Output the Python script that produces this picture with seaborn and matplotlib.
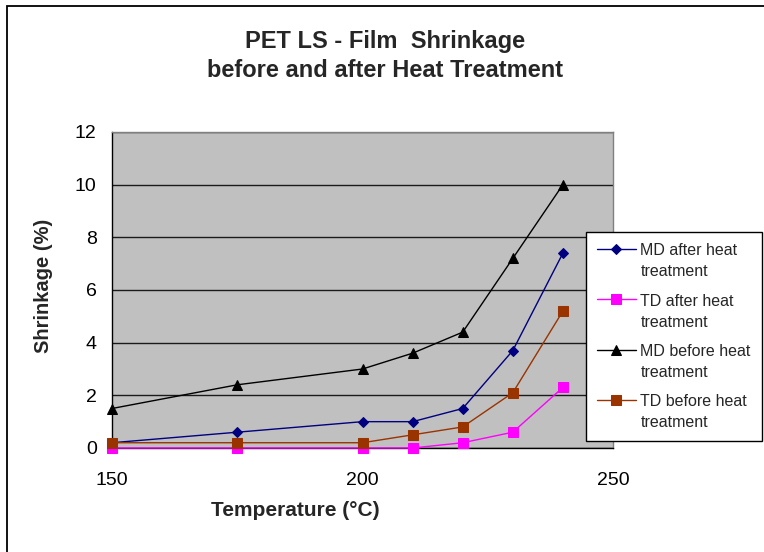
import matplotlib
matplotlib.use("Agg")
import matplotlib.pyplot as plt
import seaborn as sns
import pandas as pd
from matplotlib.patches import Rectangle

temperature = [150, 175, 200, 210, 220, 230, 240]
md_after = [0.2, 0.6, 1.0, 1.0, 1.5, 3.7, 7.4]
td_after = [0.0, 0.0, 0.0, 0.0, 0.2, 0.6, 2.3]
md_before = [1.5, 2.4, 3.0, 3.6, 4.4, 7.2, 10.0]
td_before = [0.2, 0.2, 0.2, 0.5, 0.8, 2.1, 5.2]

series_names = ["MD after heat\ntreatment", "TD after heat\ntreatment",
                "MD before heat\ntreatment", "TD before heat\ntreatment"]
series_values = [md_after, td_after, md_before, td_before]
colors = ["#000080", "#FF00FF", "#000000", "#993300"]
markers = ["D", "s", "^", "s"]
marker_sizes = [5, 7, 7, 7]

rows = []
for name, vals in zip(series_names, series_values):
    for t, v in zip(temperature, vals):
        rows.append({"Temperature": t, "Shrinkage": v, "Series": name})
df = pd.DataFrame(rows)

sns.set_style("white")
plt.rcParams["font.family"] = ["Liberation Sans", "DejaVu Sans"]

fig = plt.figure(figsize=(7.64, 5.52), dpi=100)
ax = fig.add_axes([112 / 764, 1 - 448 / 552, (613 - 112) / 764, (448 - 132) / 552])
ax.set_facecolor("#C0C0C0")

for name, col, mk, ms in zip(series_names, colors, markers, marker_sizes):
    sub = df[df["Series"] == name]
    sns.lineplot(data=sub, x="Temperature", y="Shrinkage", ax=ax, color=col,
                 marker=mk, markersize=ms, markeredgecolor=col, linewidth=1.0,
                 label=name, zorder=3, clip_on=False)

ax.set_xlim(150, 250)
ax.set_ylim(0, 12)
ax.set_xticks([150, 200, 250])
ax.set_yticks(range(0, 13, 2))
ax.yaxis.grid(True, color="#1a1a1a", linewidth=1.0)
ax.set_axisbelow(True)
ax.tick_params(axis="both", direction="out", length=5, width=1, colors="black",
               labelsize=14)
ax.tick_params(axis="x", pad=12)
ax.tick_params(axis="y", pad=6)
for side in ["left", "bottom"]:
    ax.spines[side].set_color("black")
    ax.spines[side].set_linewidth(1.0)
for side in ["top", "right"]:
    ax.spines[side].set_color("#808080")
    ax.spines[side].set_linewidth(1.0)

ax.set_xlabel("Temperature (\u00b0C)", fontsize=15, fontweight="bold")
ax.xaxis.set_label_coords((295 - 112) / 501, (448 - 511) / 316)
ax.xaxis.label.set_va("center")
ax.set_ylabel("Shrinkage (%)", fontsize=14.5, fontweight="bold")
ax.yaxis.set_label_coords((44 - 112) / 501, (448 - 286) / 316)
ax.yaxis.label.set_va("center")

fig.text(385 / 764, 1 - 56 / 552, "PET LS - Film  Shrinkage\nbefore and after Heat Treatment",
         ha="center", va="center", fontsize=17, fontweight="bold", linespacing=1.3)

leg = ax.legend(loc="upper left", bbox_to_anchor=(586 / 764, 1 - 232 / 552),
                bbox_transform=fig.transFigure, fontsize=11.5, frameon=True,
                fancybox=False, edgecolor="black", framealpha=1, borderpad=0.7,
                labelspacing=0.9, handlelength=2.4, handletextpad=0.3,
                borderaxespad=0)
leg.get_frame().set_linewidth(1.0)
for t in leg.get_texts():
    t.set_linespacing(1.5)
# keep each legend symbol level with the first line of its label
for column in leg._legend_handle_box.get_children():
    for item in column.get_children():
        item.align = "top"

# outer chart border
fig.add_artist(Rectangle((7 / 764, -0.05), 1.1, 1 - 6 / 552 + 0.05,
                         transform=fig.transFigure, fill=False,
                         edgecolor="black", linewidth=1.3))

fig.savefig("out.png", dpi=100)
